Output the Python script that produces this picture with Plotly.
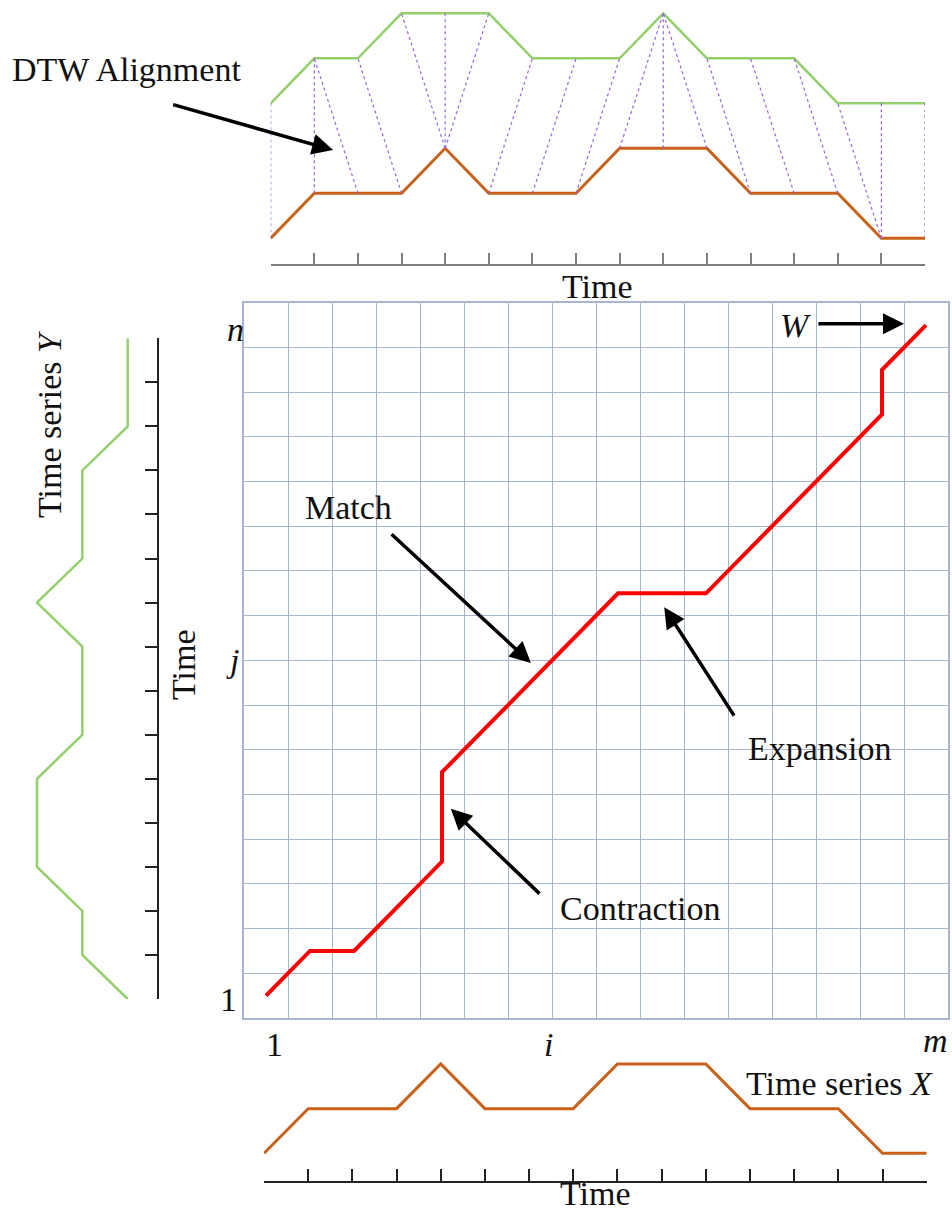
import plotly.graph_objects as go

# ---------------- data ----------------
time_idx = list(range(16))
series_x = [0, 1, 1, 1, 2, 1, 1, 1, 2, 2, 2, 1, 1, 1, 0, 0]   # Time series X (orange)
series_y = [0, 1, 1, 2, 2, 2, 1, 1, 1, 2, 1, 1, 1, 0, 0, 0]   # Time series Y (green)
path_i = [0, 1, 2, 3, 4, 4, 4, 5, 6, 7, 8, 9, 10, 11, 12, 13, 14, 14, 15]  # warping path W (X index)
path_j = [0, 1, 1, 2, 3, 4, 5, 6, 7, 8, 9, 9, 9, 10, 11, 12, 13, 14, 15]   # warping path W (Y index)
n_cells = 16
green_offset = 3  # vertical offset of Y in the alignment panel

# ---------------- styling ----------------
W, H = 952, 1216
FONT = "Liberation Serif"
FS = 34
GREEN = "#93D06C"
ORANGE = "#C9611B"
RED = "#FF0000"
PURPLE = "#9763E0"
GRID = "#A6B6D1"


def fx(px):
    return px / W


def fy(py):
    return 1 - py / H


fig = go.Figure()

# --- top alignment panel (x2, y2)
fig.add_trace(go.Scatter(x=time_idx, y=series_x, mode="lines", xaxis="x2", yaxis="y2",
                         line=dict(color=ORANGE, width=3), hoverinfo="skip"))
fig.add_trace(go.Scatter(x=time_idx, y=[v + green_offset for v in series_y], mode="lines",
                         xaxis="x2", yaxis="y2", line=dict(color=GREEN, width=2.5), hoverinfo="skip"))
ax_x, ax_y = [], []
for i, j in zip(path_i, path_j):
    ax_x += [i, j, None]
    ax_y += [series_x[i], series_y[j] + green_offset, None]
fig.add_trace(go.Scatter(x=ax_x, y=ax_y, mode="lines", xaxis="x2", yaxis="y2",
                         line=dict(color=PURPLE, width=1.2, dash="dot"), hoverinfo="skip"))

# --- main grid with warping path (x, y)
fig.add_trace(go.Scatter(x=[i + 0.5 for i in path_i], y=[j + 0.5 for j in path_j], mode="lines",
                         xaxis="x", yaxis="y", line=dict(color=RED, width=4), hoverinfo="skip"))

# --- left panel Y (x3, y3)
fig.add_trace(go.Scatter(x=series_y, y=time_idx, mode="lines", xaxis="x3", yaxis="y3",
                         line=dict(color=GREEN, width=2.5), hoverinfo="skip"))

# --- bottom panel X (x4, y4)
fig.add_trace(go.Scatter(x=time_idx, y=series_x, mode="lines", xaxis="x4", yaxis="y4",
                         line=dict(color=ORANGE, width=3), hoverinfo="skip"))

hidden = dict(visible=False)
tick_axis = dict(showline=True, ticks="inside", ticklen=12, tickwidth=1.5, linewidth=1.5,
                 tickvals=time_idx, showticklabels=False, showgrid=False, zeroline=False)

fig.update_layout(
    width=W, height=H, margin=dict(l=0, r=0, t=0, b=0),
    paper_bgcolor="white", plot_bgcolor="rgba(0,0,0,0)", showlegend=False,
    font=dict(family=FONT, size=FS, color="#111"),
    xaxis=dict(domain=[fx(244), fx(948)], range=[0, n_cells], dtick=1, tick0=0,
               showgrid=True, gridcolor=GRID, gridwidth=1.3, showline=True, mirror=True,
               linecolor=GRID, linewidth=1.5, showticklabels=False, ticks="", zeroline=False,
               anchor="y"),
    yaxis=dict(domain=[fy(1018), fy(302.7)], range=[0, n_cells], dtick=1, tick0=0,
               showgrid=True, gridcolor=GRID, gridwidth=1.3, showline=True, mirror=True,
               linecolor=GRID, linewidth=1.5, showticklabels=False, ticks="", zeroline=False,
               anchor="x"),
    xaxis2=dict(domain=[fx(270.7), fx(925)], range=[0, 15], anchor="y2",
                linecolor="#808080", tickcolor="#808080", **tick_axis),
    yaxis2=dict(domain=[fy(264.3), fy(0)], range=[-0.578, 5.296], anchor="x2", **hidden),
    xaxis3=dict(domain=[fx(20), fx(156.7)], range=[2.375, -0.64], anchor="y3", **hidden),
    yaxis3=dict(domain=[fy(999), fy(338.3)], range=[0, 15], anchor="x3", side="right",
                linecolor="#222", tickcolor="#222", **tick_axis),
    xaxis4=dict(domain=[fx(264), fx(926.7)], range=[0, 15], anchor="y4",
                linecolor="#222", tickcolor="#222", **tick_axis),
    yaxis4=dict(domain=[fy(1181), fy(1050)], range=[-0.62, 2.313], anchor="x4", **hidden),
)

ann = []


def label(text, px, py, angle=0, size=FS):
    ann.append(dict(text=text, x=fx(px), y=fy(py), xref="paper", yref="paper",
                    xanchor="center", yanchor="middle", showarrow=False, textangle=angle,
                    font=dict(family=FONT, size=size, color="#111")))


def arrow(xref, yref, tail, head, width=3.5, size=1.2):
    ann.append(dict(text="", x=head[0], y=head[1], ax=tail[0], ay=tail[1],
                    xref=xref, yref=yref, axref=xref, ayref=yref, showarrow=True,
                    arrowhead=2, arrowsize=size, arrowwidth=width, arrowcolor="#000"))


label("DTW Alignment", 126, 70)
label("Time", 597, 286)
label("Time", 595, 1193)
label("Time series <i>X</i>", 839, 1083)
label("Time series <i>Y</i>", 50, 425, angle=-90)
label("Time", 183, 665, angle=-90)
label("Match", 348, 507)
label("Expansion", 820, 748)
label("Contraction", 640, 908)
label("<i>W</i>", 795, 325)
label("<i>n</i>", 235, 330)
label("<i>j</i>", 232, 660)
label("1", 228, 1000)
label("1", 274, 1044)
label("<i>i</i>", 548, 1044)
label("<i>m</i>", 935, 1040)

# arrows (tail -> head), in each panel's own data coordinates
arrow("x2", "y2", (-2.27, 2.98), (1.43, 1.96))          # DTW Alignment
arrow("x", "y", (3.32, 10.85), (6.52, 7.94))            # Match
arrow("x", "y", (11.16, 6.73), (9.55, 9.19))            # Expansion
arrow("x", "y", (6.75, 2.75), (4.70, 4.68))             # Contraction
arrow("x", "y", (13.02, 15.53), (15.0, 15.53))          # W

fig.update_layout(annotations=ann)
fig.write_html("out.html")
